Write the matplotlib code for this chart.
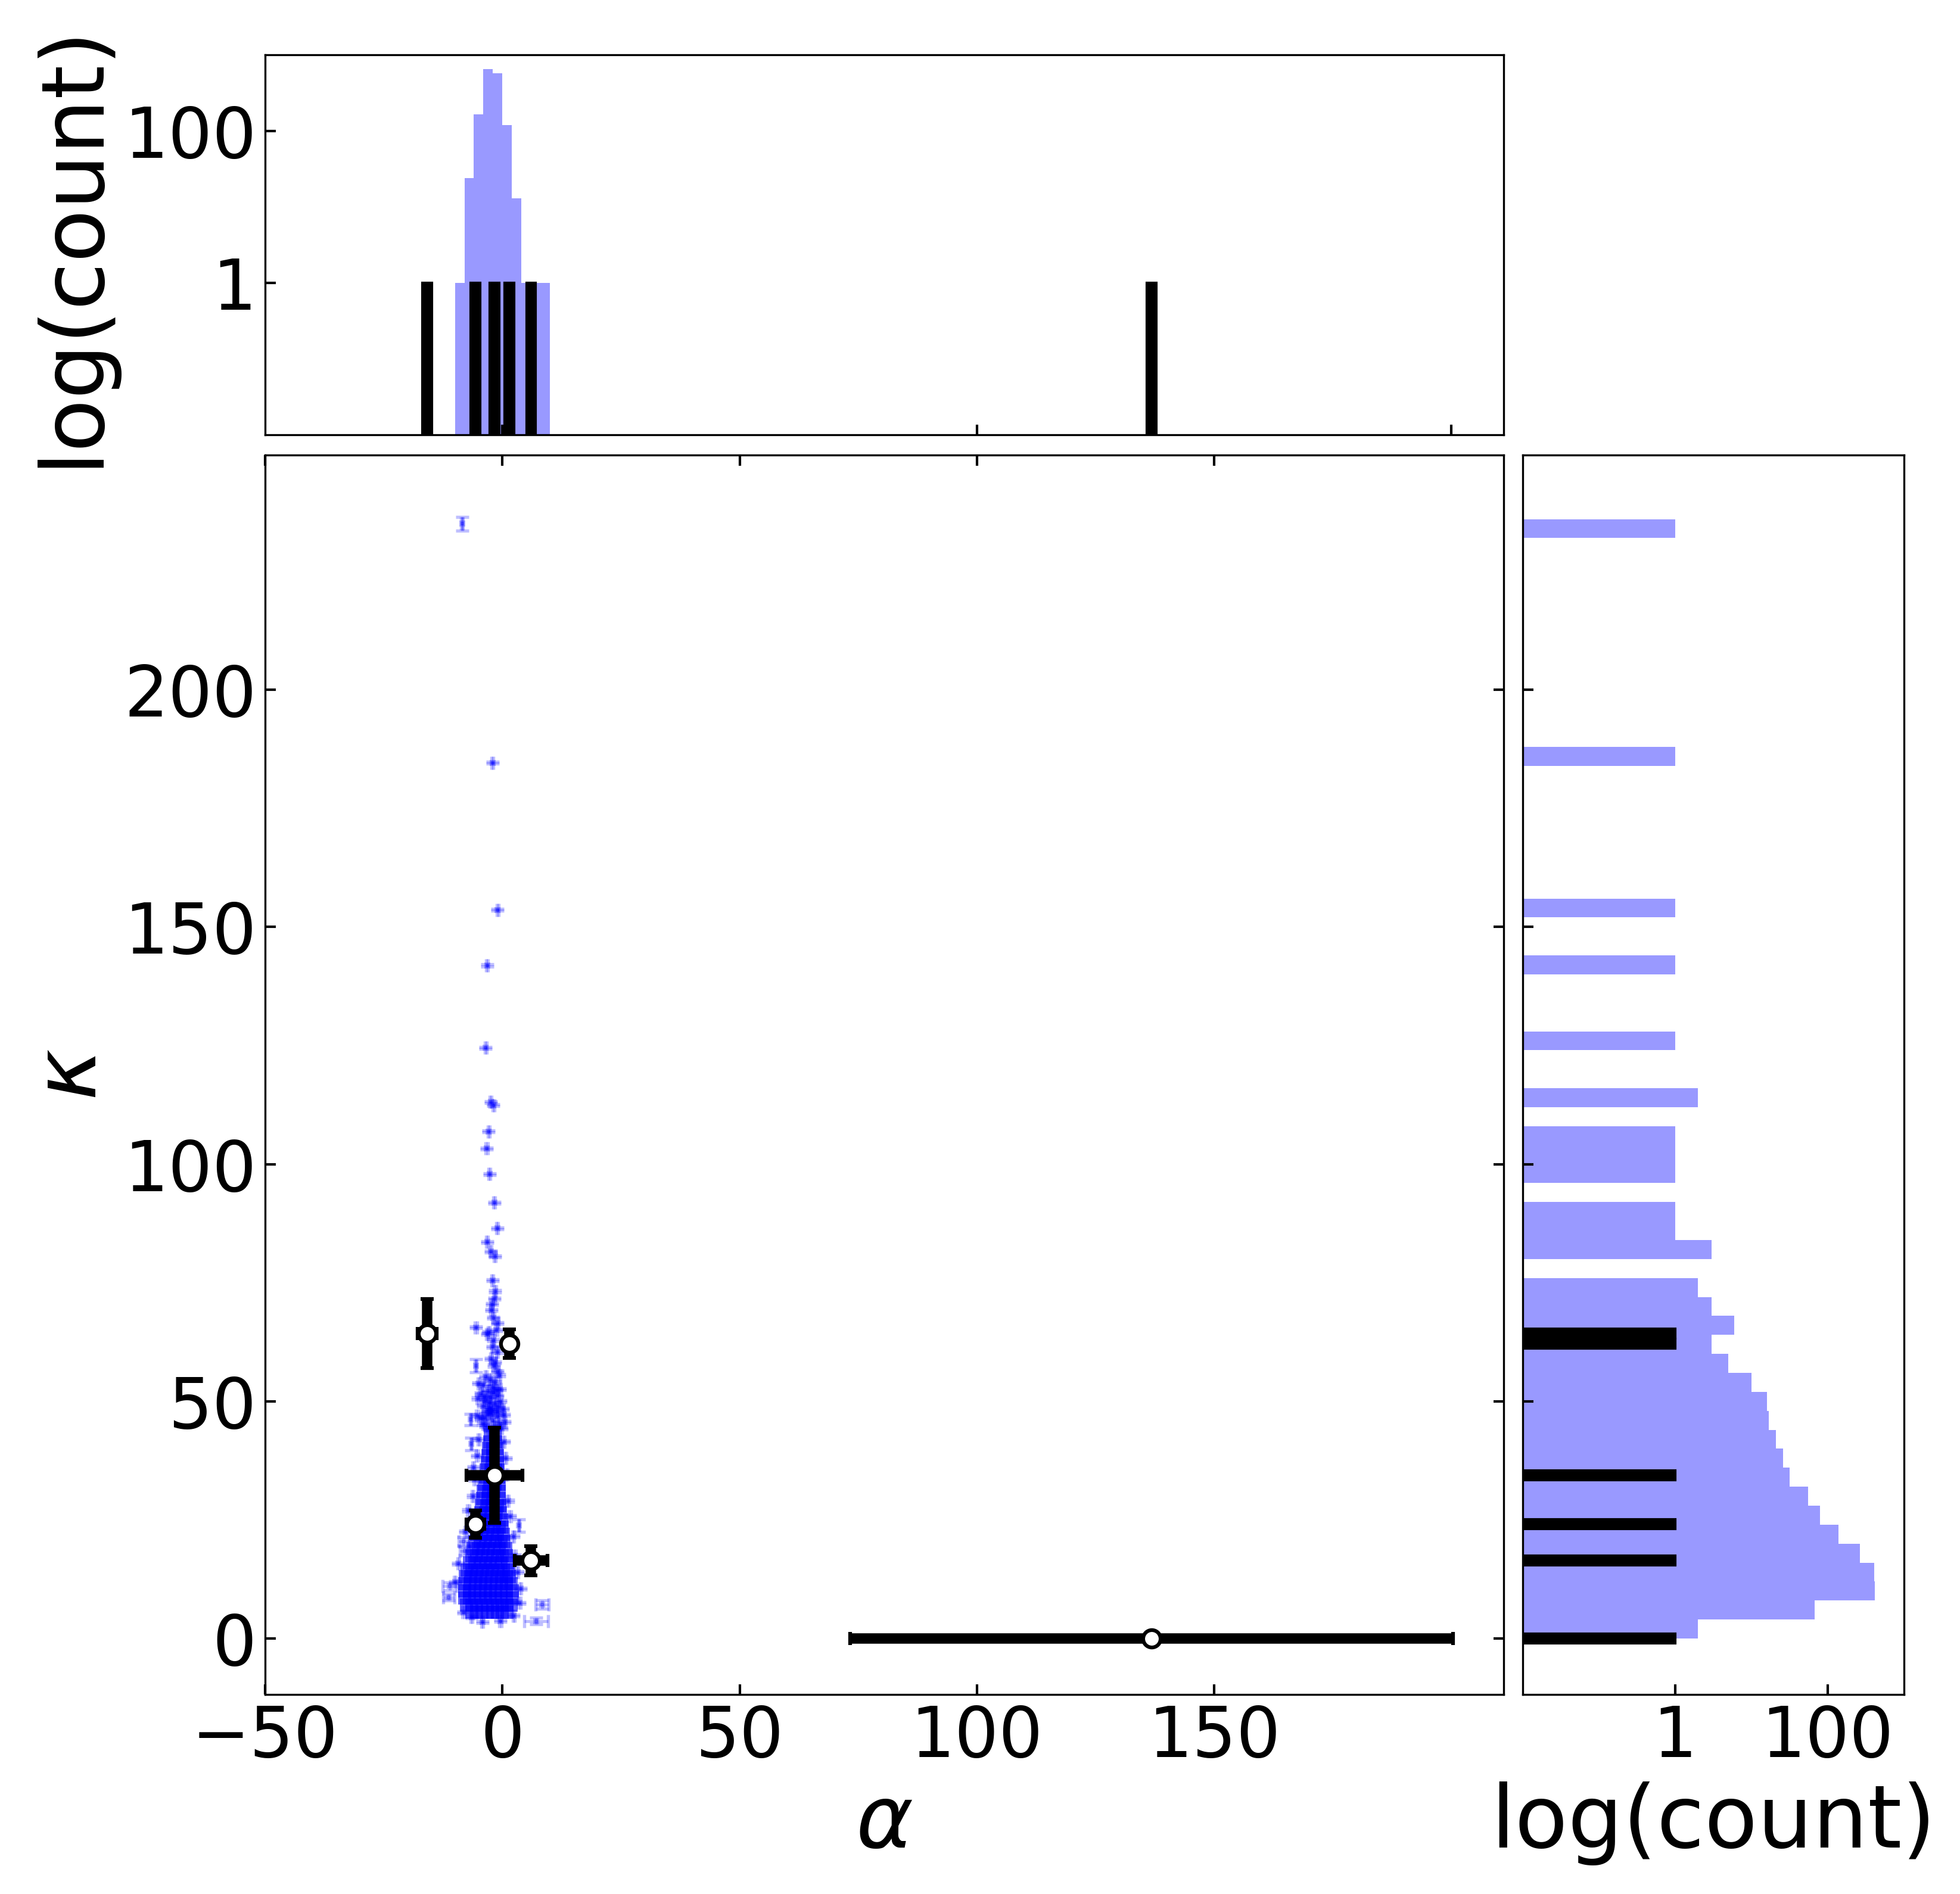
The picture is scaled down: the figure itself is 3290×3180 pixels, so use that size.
import numpy as np
import matplotlib
matplotlib.use("Agg")
import matplotlib.pyplot as plt
from matplotlib.ticker import NullLocator

# ---- black points (measured sources) ----
black_alpha = [-15.85, 1.5, -1.65, -5.65, 6.05, 136.8]
black_kappa = [64.3, 62.2, 34.4, 24.1, 16.4, 0.0]
black_xerr = [2.0, 0.8, 5.9, 1.9, 3.4, 63.5]
black_yerr = [7.3, 3.0, 10.0, 2.9, 3.1, 0.5]
black_count = [1, 1, 1, 1, 1, 1]

# ---- blue points, dense core (rows of kappa, alpha positions per row) ----
core_kappa = [5.5, 7, 8.5, 10, 11.5, 13, 14.5, 16, 17.5, 19, 20.5, 22, 23.5,
              25, 26.5, 28, 29.5, 31, 32.5, 34, 35.5, 37, 38.5, 40, 41.5, 43]
core_alpha = [
    [-6.5, -5.4, -4.3, -3.2, -2.1, -1.0, 0.0, 1.0],
    [-7.6, -6.5, -5.4, -4.3, -3.2, -2.1, -1.0, 0.0, 1.0, 1.8],
    [-8.0, -6.9, -5.8, -4.7, -3.6, -2.5, -1.4, -0.3, 0.8, 2.1],
    [-8.0, -6.9, -5.8, -4.7, -3.6, -2.5, -1.4, -0.3, 0.8, 2.1],
    [-7.9, -6.8, -5.7, -4.6, -3.5, -2.4, -1.3, -0.2, 0.8, 1.8],
    [-7.8, -6.7, -5.6, -4.5, -3.4, -2.3, -1.2, -0.1, 0.8, 1.5],
    [-7.5, -6.4, -5.3, -4.2, -3.1, -2.0, -0.9, 0.2, 1.3],
    [-6.9, -5.8, -4.7, -3.6, -2.5, -1.4, -0.3, 1.1],
    [-6.5, -5.4, -4.3, -3.2, -2.1, -1.0, 0.0, 0.9],
    [-6.2, -5.1, -4.0, -2.9, -1.8, -0.7, 0.7],
    [-5.8, -4.7, -3.6, -2.5, -1.4, -0.3, 0.4],
    [-5.4, -4.3, -3.2, -2.1, -1.0, 0.2],
    [-5.1, -4.0, -2.9, -1.8, -0.7, 0.0],
    [-4.8, -3.7, -2.6, -1.5, -0.2],
    [-4.6, -3.5, -2.4, -1.3, -0.4],
    [-4.4, -3.3, -2.2, -1.1, -0.5],
    [-4.2, -3.1, -2.0, -0.6],
    [-4.0, -2.9, -1.8, -0.6],
    [-3.8, -2.7, -1.6, -0.7],
    [-3.6, -2.5, -1.4, -0.8],
    [-3.4, -2.4, -1.4, -0.9],
    [-3.2, -2.2, -1.0],
    [-3.0, -2.0, -1.1],
    [-2.9, -2.0, -1.2],
    [-2.7, -1.4],
    [-2.6, -1.5],
]

# ---- blue points with small errors (tail, loose cloud, edges) ----
blue_alpha = [-2.1, -1.0, -3.2, -3.5, -2.45, -1.9, -2.9, -3.3, -2.7, -1.7,
              -1.1, -3.2, -2.45, -1.6, -2.1, -1.5, -1.7, -2.2, -2.3, -1.9,
              -1.0, -5.55, -1.3, -2.9, -3.2, -1.9, -2.1, -1.1, -2.4, -1.5,
              -1.8, -1.0,
              -3.5, -2.6, -1.6, -0.6, -4.1, -2.1, -0.5, -3.0, -1.2, -5.0,
              -4.5, -1.0, -2.5, -3.6, -0.4, -1.6, -4.1, -2.6, 0.1, -3.1,
              -5.2, -1.9, -2.8, -0.9, -3.8, -2.2,
              -3.0, -1.0, -4.5, -2.0, 0.5, -3.5, -1.5, -0.2, -2.5, -4.0,
              -1.2, 0.3, -5.3, -2.8, -3.8, -0.6,
              -5.0, 0.3, -5.3, 0.7, -5.8, 0.9, -6.2, 1.2, -7.2, 1.6,
              -7.8, 2.3, 2.6, -9.3, 3.2, -10.0, 3.8, 3.6, -8.2, -4.2,
              -0.4, 2.4, -6.5, -6.1]
blue_kappa = [184.6, 153.6, 141.9, 124.5, 113.1, 112.4, 106.9, 103.3, 97.9, 91.9,
              86.5, 83.6, 81.6, 80.6, 75.5, 73.2, 71.6, 70.5, 69.2, 67.6,
              66.5, 65.6, 65.0, 64.6, 64.2, 62.9, 61.5, 60.4, 59.0, 58.2,
              57.5, 56.3,
              55.2, 54.6, 54.0, 55.5, 53.4, 53.0, 52.6, 52.2, 52.4, 53.8,
              51.6, 51.2, 50.8, 50.2, 50.0, 49.5, 49.0, 48.6, 48.4, 48.2,
              50.6, 51.8, 49.8, 48.9, 51.0, 48.1,
              47.4, 46.9, 46.4, 45.9, 45.6, 44.8, 44.6, 44.3, 47.6, 45.2,
              47.8, 47.2, 47.0, 44.2, 46.6, 45.1,
              42.0, 41.5, 38.5, 38.0, 33.5, 34.5, 30.0, 29.0, 27.0, 25.8,
              22.5, 21.5, 17.5, 15.8, 14.0, 11.9, 10.5, 7.5, 5.5, 3.5,
              3.7, 4.8, 4.5, 36.1]
blue_err = 0.2

# ---- blue points with visible error bars ----
wide_alpha = [-8.5, -5.6, -6.7, -6.6, 3.5, -8.2, -8.0, -11.1, -11.3, 8.35, 7.1]
wide_kappa = [235.0, 57.5, 46.2, 41.0, 23.8, 20.5, 18.5, 11.0, 8.7, 7.2, 3.7]
wide_xerr = [0.15, 0.15, 0.15, 0.15, 0.15, 1.0, 1.0, 1.5, 1.2, 1.4, 2.5]
wide_yerr = [1.5, 1.4, 1.2, 1.3, 1.3, 0.9, 0.9, 0.8, 0.7, 0.9, 0.7]

# ---- histograms (counts) ----
alpha_edges = [-10, -8, -6, -4, -2, 0, 2, 4, 6, 8, 10]
alpha_counts = [1, 24, 165, 648, 578, 119, 13, 1, 1, 1]

kappa_edges = np.arange(0, 240, 4)
kappa_counts = [2, 68, 418, 412, 266, 139, 80, 56, 32, 26,
                21, 17, 16, 10, 5, 3, 6, 3, 2, 0,
                3, 1, 1, 0, 1, 1, 1, 0, 2, 0,
                0, 1, 0, 0, 0, 1, 0, 0, 1, 0,
                0, 0, 0, 0, 0, 0, 1, 0, 0, 0,
                0, 0, 0, 0, 0, 0, 0, 0, 1]

XLIM = (-50, 211)
YLIM = (-11.8, 249.5)
CLIM = (0.01, 1000)

fig = plt.figure(figsize=(3290 / 300, 3180 / 300), dpi=300)
ax = fig.add_axes([0.13526, 0.10535, 0.63191, 0.65440])
ax_top = fig.add_axes([0.13526, 0.77038, 0.63191, 0.20060])
ax_right = fig.add_axes([0.77678, 0.10535, 0.19453, 0.65440])

# main panel
core_a = np.concatenate(core_alpha)
core_k = np.repeat(core_kappa, [len(r) for r in core_alpha])
ax.plot(core_a, core_k, 's', ms=5.5, color='blue', alpha=0.6, mew=0, zorder=2)

ax.errorbar(blue_alpha, blue_kappa, xerr=blue_err, yerr=blue_err, fmt='s', ms=1.5,
            color='blue', alpha=0.25, capsize=2.6, capthick=1.3, elinewidth=1.2, zorder=3)
ax.errorbar(wide_alpha, wide_kappa, xerr=wide_xerr, yerr=wide_yerr, fmt='s', ms=1.5,
            color='blue', alpha=0.25, capsize=2.6, capthick=1.3, elinewidth=1.2, zorder=3)

ax.errorbar(black_alpha, black_kappa, xerr=black_xerr, yerr=black_yerr, fmt='o', ms=7,
            mfc='white', mec='black', mew=1.5, ecolor='black', elinewidth=4.2,
            capsize=2.7, capthick=1.0, zorder=5)

ax.set_xlim(XLIM)
ax.set_ylim(YLIM)
ax.set_xticks([-50, 0, 50, 100, 150])
ax.set_yticks([0, 50, 100, 150, 200])
ax.tick_params(direction='in', length=4.2, width=1, top=True, right=True, labelsize=28)
ax.set_xlabel(r'$\alpha$', fontsize=35)
ax.set_ylabel(r'$\kappa$', fontsize=35)

# top histogram
ax_top.set_yscale('log')
ax_top.bar(alpha_edges[:-1], alpha_counts, width=np.diff(alpha_edges), align='edge',
           bottom=1e-3, color='blue', alpha=0.4, lw=0)
ax_top.bar(black_alpha, black_count, width=2.0, bottom=1e-3,
           color='black', edgecolor='black', lw=1.0)
ax_top.set_xlim(XLIM)
ax_top.set_ylim(CLIM)
ax_top.set_xticks([0, 100, 200])
ax_top.set_yticks([1, 100])
ax_top.set_yticklabels(['1', '100'])
ax_top.yaxis.set_minor_locator(NullLocator())
ax_top.tick_params(direction='in', length=4.2, width=1, labelbottom=False, labelsize=28)
ax_top.set_ylabel('log(count)', fontsize=35)

# right histogram
ax_right.set_xscale('log')
ax_right.barh(kappa_edges[:-1], kappa_counts, height=4, align='edge', left=1e-3,
              color='blue', alpha=0.4, lw=0)
ax_right.barh(black_kappa, black_count, height=2.0, left=1e-3,
              color='black', edgecolor='black', lw=1.0)
ax_right.set_ylim(YLIM)
ax_right.set_xlim(CLIM)
ax_right.set_yticks([0, 50, 100, 150, 200])
ax_right.set_xticks([1, 100])
ax_right.set_xticklabels(['1', '100'])
ax_right.xaxis.set_minor_locator(NullLocator())
ax_right.tick_params(direction='in', length=4.2, width=1, labelleft=False, labelsize=28)
ax_right.set_xlabel('log(count)', fontsize=35)

fig.savefig('out.png', dpi=300)
